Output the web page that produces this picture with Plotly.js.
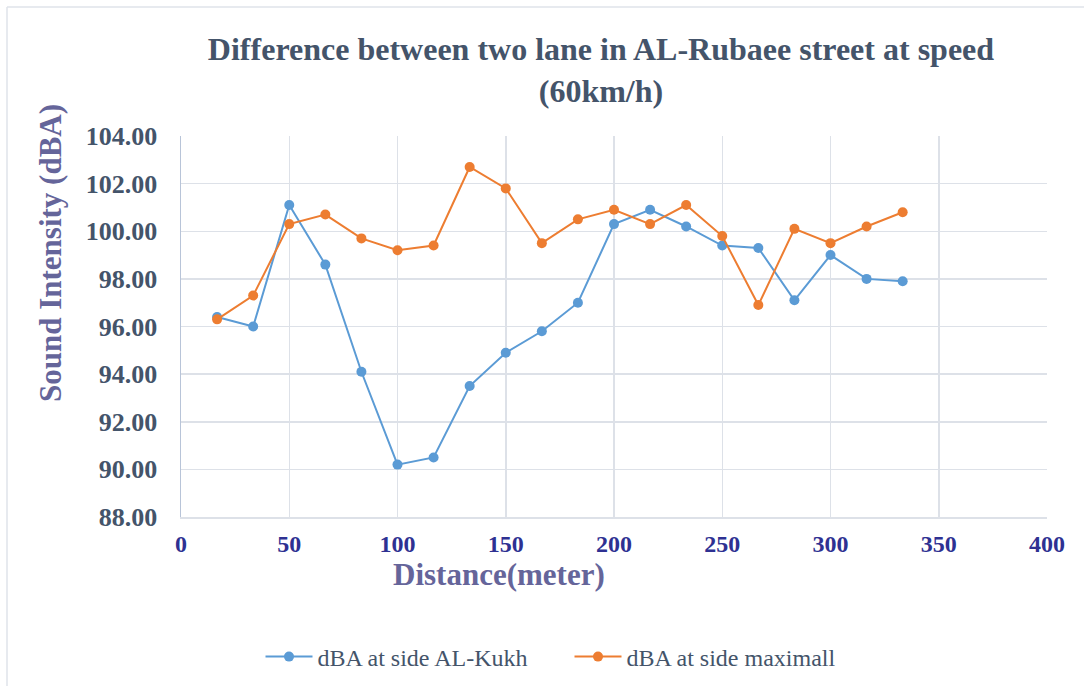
<!DOCTYPE html>
<html>
<head>
<meta charset="utf-8">
<script src="https://cdn.plot.ly/plotly-3.0.1.min.js"></script>
<style>
html,body{margin:0;padding:0;background:#fff;}
#chart{width:1084px;height:686px;}
</style>
</head>
<body>
<div id="chart"></div>
<script>
var distance = [16.67, 33.33, 50, 66.67, 83.33, 100, 116.67, 133.33, 150, 166.67, 183.33, 200, 216.67, 233.33, 250, 266.67, 283.33, 300, 316.67, 333.33];
var alKukh = [96.4, 96.0, 101.1, 98.6, 94.1, 90.2, 90.5, 93.5, 94.9, 95.8, 97.0, 100.3, 100.9, 100.2, 99.4, 99.3, 97.1, 99.0, 98.0, 97.9];
var maximall = [96.3, 97.3, 100.3, 100.7, 99.7, 99.2, 99.4, 102.7, 101.8, 99.5, 100.5, 100.9, 100.3, 101.1, 99.8, 96.9, 100.1, 99.5, 100.2, 100.8];
var seriesNames = ["dBA at side AL-Kukh", "dBA at side maximall"];
var yTicks = [88, 90, 92, 94, 96, 98, 100, 102, 104];
var xTicks = [0, 50, 100, 150, 200, 250, 300, 350, 400];

var serif = "'Liberation Serif', 'Times New Roman', serif";
var gridColor = "#dde1e8";

var traces = [
  {x: distance, y: alKukh, name: seriesNames[0], type: "scatter", mode: "lines+markers",
   line: {color: "#5B9BD5", width: 2}, marker: {color: "#5B9BD5", size: 10}},
  {x: distance, y: maximall, name: seriesNames[1], type: "scatter", mode: "lines+markers",
   line: {color: "#ED7D31", width: 2}, marker: {color: "#ED7D31", size: 10}}
];

function px2x(p){ return (p - 181) / 866; }
function py2y(p){ return (517 - p) / 381; }

var layout = {
  width: 1084, height: 686,
  margin: {l: 181, r: 37, t: 136, b: 169},
  paper_bgcolor: "#ffffff", plot_bgcolor: "#ffffff",
  showlegend: true,
  title: {
    text: "Difference between two lane in AL-Rubaee street at speed<br>(60km/h)",
    font: {family: serif, size: 32, color: "#44546A", weight: "bold"},
    xref: "container", x: 0.5544, xanchor: "center",
    yref: "container", y: 1 - 60/686, yanchor: "top"
  },
  xaxis: {
    range: [0, 400], tickvals: xTicks, ticktext: xTicks.map(String),
    showgrid: true, gridcolor: gridColor, gridwidth: 1.5,
    zeroline: false, showline: true, linecolor: gridColor, linewidth: 1.5,
    ticks: "", ticklabelstandoff: 5,
    tickfont: {family: serif, size: 24, color: "#2E3192", weight: "bold"}
  },
  yaxis: {
    range: [88, 104], tickvals: yTicks, ticktext: yTicks.map(function(v){return v.toFixed(2);}),
    showgrid: true, gridcolor: gridColor, gridwidth: 1.5,
    zeroline: false, showline: true, linecolor: "#b8c4d8", linewidth: 1.5,
    ticks: "", ticklabelstandoff: 17,
    tickfont: {family: serif, size: 26, color: "#44546A", weight: "bold"}
  },
  legend: {
    orientation: "h",
    xref: "container", x: 569.5/1084, xanchor: "center",
    yref: "container", y: (686-657)/686, yanchor: "middle",
    font: {family: serif, size: 24, color: "#44546A"},
    itemwidth: 47, entrywidth: 247, bgcolor: "rgba(0,0,0,0)"
  },
  annotations: [
    {text: "Sound Intensity (dBA)", textangle: -90, showarrow: false,
     xref: "paper", yref: "paper", x: px2x(50), y: py2y(253), xanchor: "center", yanchor: "middle",
     font: {family: serif, size: 31, color: "#65659A", weight: "bold"}},
    {text: "Distance(meter)", showarrow: false,
     xref: "paper", yref: "paper", x: px2x(499), y: py2y(574), xanchor: "center", yanchor: "middle",
     font: {family: serif, size: 31, color: "#65659A", weight: "bold"}}
  ],
  shapes: [
    {type: "line", xref: "paper", yref: "paper", x0: px2x(7), x1: px2x(1084), y0: py2y(7), y1: py2y(7),
     line: {color: "#dfe3ea", width: 1.5}},
    {type: "line", xref: "paper", yref: "paper", x0: px2x(7), x1: px2x(7), y0: py2y(7), y1: py2y(686),
     line: {color: "#dfe3ea", width: 1.5}}
  ]
};

Plotly.newPlot("chart", traces, layout, {displayModeBar: false, staticPlot: true});
</script>
</body>
</html>
